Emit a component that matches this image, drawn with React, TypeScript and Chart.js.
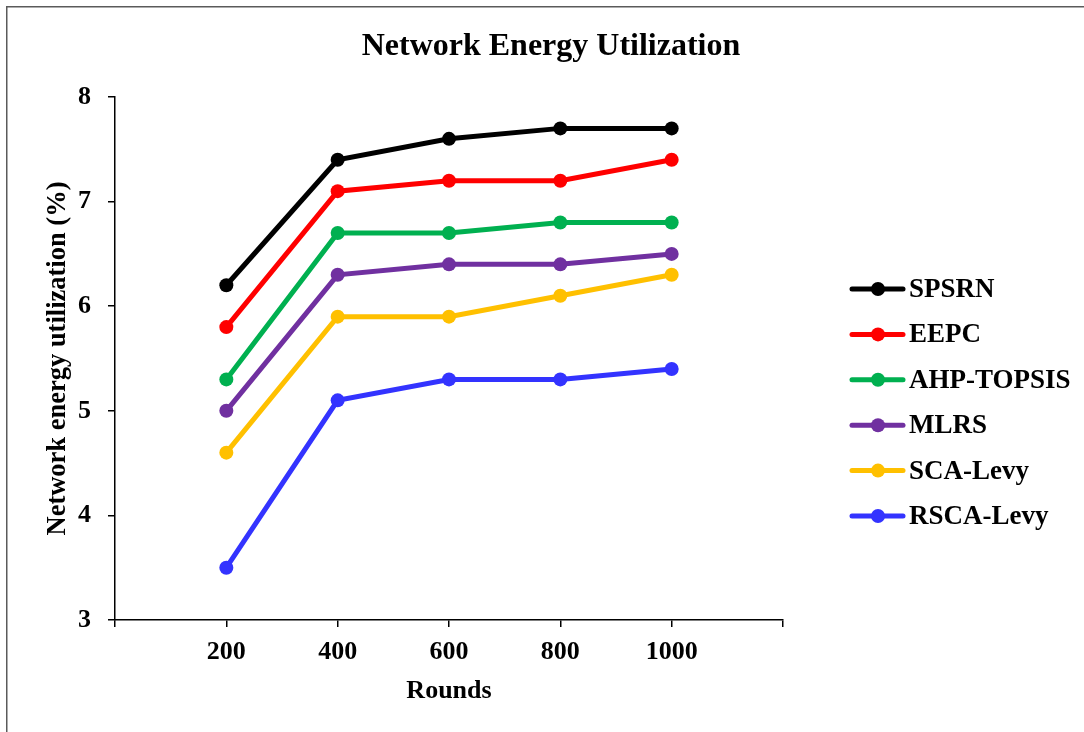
import React, { useEffect, useRef } from "react";
import { Chart, registerables } from "chart.js";

Chart.register(...registerables);

const TITLE = "Network Energy Utilization";
const X_TITLE = "Rounds";
const Y_TITLE = "Network energy utilization (%)";

const rounds = [200, 400, 600, 800, 1000];
const seriesNames = ["SPSRN", "EEPC", "AHP-TOPSIS", "MLRS", "SCA-Levy", "RSCA-Levy"];
const seriesColors = ["#000000", "#FF0000", "#00B050", "#7030A0", "#FFC000", "#3333FF"];

const spsrn = [6.2, 7.4, 7.6, 7.7, 7.7];
const eepc = [5.8, 7.1, 7.2, 7.2, 7.4];
const ahpTopsis = [5.3, 6.7, 6.7, 6.8, 6.8];
const mlrs = [5.0, 6.3, 6.4, 6.4, 6.5];
const scaLevy = [4.6, 5.9, 5.9, 6.1, 6.3];
const rscaLevy = [3.5, 5.1, 5.3, 5.3, 5.4];

const seriesValues = [spsrn, eepc, ahpTopsis, mlrs, scaLevy, rscaLevy];

const xMin = 0;
const xMax = 1200;
const xStep = 200;
const yMin = 3;
const yMax = 8;
const yStep = 1;

const FONT = "'Liberation Serif', 'Times New Roman', serif";

const decorPlugin = {
  id: "decor",
  afterDraw(chart: any) {
    const ctx = chart.ctx;
    ctx.save();
    // outer border (top and left)
    ctx.strokeStyle = "#5a5a5a";
    ctx.lineWidth = 1.5;
    ctx.beginPath();
    ctx.moveTo(6.75, 732);
    ctx.lineTo(6.75, 6.75);
    ctx.lineTo(1084, 6.75);
    ctx.stroke();

    // title
    ctx.fillStyle = "#000";
    ctx.font = `bold 32px ${FONT}`;
    ctx.textAlign = "center";
    ctx.textBaseline = "middle";
    ctx.fillText(TITLE, 551, 47);

    // legend
    const startY = 289;
    const gap = 45.4;
    chart.data.datasets.forEach((ds: any, i: number) => {
      const y = startY + i * gap;
      ctx.strokeStyle = ds.borderColor;
      ctx.lineWidth = 5;
      ctx.lineCap = "round";
      ctx.beginPath();
      ctx.moveTo(852, y);
      ctx.lineTo(903, y);
      ctx.stroke();
      ctx.fillStyle = ds.borderColor;
      ctx.beginPath();
      ctx.arc(878, y, 7, 0, Math.PI * 2);
      ctx.fill();
      ctx.fillStyle = "#000";
      ctx.font = `bold 27px ${FONT}`;
      ctx.textAlign = "left";
      ctx.textBaseline = "middle";
      ctx.fillText(ds.label, 909, y + 1);
    });
    ctx.restore();
  },
};

export default function App() {
  const ref = useRef<HTMLCanvasElement | null>(null);

  useEffect(() => {
    document.body.style.margin = "0";
    const canvas = ref.current;
    if (!canvas) return;
    const datasets = seriesNames.map((name, i) => ({
      label: name,
      data: rounds.map((r, j) => ({ x: r, y: seriesValues[i][j] })),
      borderColor: seriesColors[i],
      backgroundColor: seriesColors[i],
      pointBackgroundColor: seriesColors[i],
      pointBorderWidth: 0,
      pointRadius: 7,
      borderWidth: 5,
      tension: 0,
      fill: false,
    }));
    const chart = new Chart(canvas, {
      type: "line",
      data: { datasets },
      plugins: [decorPlugin],
      options: {
        responsive: false,
        animation: false,
        devicePixelRatio: 1,
        layout: { padding: { top: 97, right: 301, bottom: 0, left: 0 } },
        plugins: {
          legend: { display: false },
          title: { display: false },
          tooltip: { enabled: false },
        },
        scales: {
          x: {
            type: "linear",
            min: xMin,
            max: xMax,
            afterFit(scale: any) {
              scale.height = 112;
            },
            ticks: {
              stepSize: xStep,
              color: "#000",
              font: { family: FONT, size: 26, weight: "bold" },
              padding: 10,
              maxRotation: 0,
              autoSkip: false,
              callback: (v: any) => (v === xMin || v === xMax ? "" : String(v)),
            },
            grid: {
              display: true,
              drawOnChartArea: false,
              drawTicks: true,
              tickLength: 7,
              color: "#000",
              lineWidth: 1.5,
            },
            border: { display: true, color: "#000", width: 1.5 },
            title: {
              display: true,
              text: X_TITLE,
              color: "#000",
              font: { family: FONT, size: 26, weight: "bold" },
              padding: { top: 0, bottom: 25 },
            },
          },
          y: {
            type: "linear",
            min: yMin,
            max: yMax,
            afterFit(scale: any) {
              scale.width = 115;
            },
            ticks: {
              stepSize: yStep,
              color: "#000",
              font: { family: FONT, size: 26, weight: "bold" },
              padding: 17,
            },
            grid: {
              display: true,
              drawOnChartArea: false,
              drawTicks: true,
              tickLength: 7,
              color: "#000",
              lineWidth: 1.5,
            },
            border: { display: true, color: "#000", width: 1.5 },
            title: {
              display: true,
              text: Y_TITLE,
              color: "#000",
              font: { family: FONT, size: 26.5, weight: "bold" },
              padding: { top: 42, bottom: 0 },
            },
          },
        },
      },
    });
    return () => chart.destroy();
  }, []);

  return (
    <div style={{ position: "fixed", left: 0, top: 0, width: 1084, height: 732, background: "#fff" }}>
      <canvas ref={ref} width={1084} height={732} />
    </div>
  );
}
